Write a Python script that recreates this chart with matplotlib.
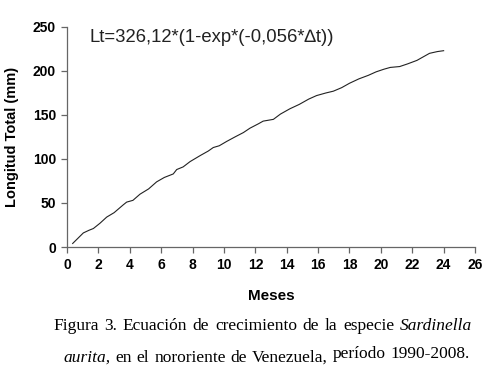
import numpy as np
import matplotlib
matplotlib.use("Agg")
import matplotlib.pyplot as plt

# meses vs longitud total (mm)
meses = [0.36, 0.7, 1.04, 1.4, 1.68, 2.1, 2.53, 3.0, 3.59, 3.8, 4.2, 4.65, 5.2, 5.71,
         6.2, 6.77, 6.99, 7.4, 7.84, 8.5, 9.0, 9.32, 9.7, 10.18, 10.7, 11.24, 11.66,
         12.2, 12.5, 13.15, 13.6, 14.2, 14.8, 15.4, 15.9, 16.5, 16.97, 17.5, 18.0,
         18.6, 19.2, 19.7, 20.2, 20.6, 21.2, 21.7, 22.3, 22.7, 23.1, 23.6, 24.0]
longitud = [4, 10, 16, 19, 21, 27, 34, 39, 48, 51, 53, 60, 66, 74,
            79, 83, 88, 91, 97, 104, 109, 113, 115, 120, 125, 130, 135,
            140, 143, 145, 151, 157, 162, 168, 172, 175, 177, 181, 186,
            191, 195, 199, 202, 204, 205, 208, 212, 216, 220, 222, 223]
xticks = list(range(0, 27, 2))
yticks = [0, 50, 100, 150, 200, 250]
ecuacion = "Lt=326,12*(1-exp*(-0,056*\u2206t))"

# pie de figura (texto justificado)
linea1 = ["Figura", "3.", "Ecuaci\u00f3n", "de", "crecimiento", "de", "la", "especie", "Sardinella"]
linea2 = ["aurita,", "en", "el", "nororiente", "de", "Venezuela,", "per\u00edodo", "1990-2008."]
cursiva = {"Sardinella", "aurita,"}
elevadas = {"per\u00edodo", "1990-2008."}

plt.rcParams['font.family'] = ['Liberation Sans', 'DejaVu Sans']

fig = plt.figure(figsize=(4.86, 3.73), dpi=100)
ax = fig.add_axes([0.1379, 0.3378, 0.8395, 0.590])
ax.plot(meses, longitud, color='#222222', lw=0.8)

ax.set_xlim(0, 26)
ax.set_ylim(0, 250)
ax.set_xticks(xticks)
ax.set_yticks(yticks)
for s in ['top', 'right']:
    ax.spines[s].set_visible(False)
for s in ['left', 'bottom']:
    ax.spines[s].set_color('#666666')
    ax.spines[s].set_linewidth(0.9)
ax.tick_params(direction='out', length=4, width=0.9, color='#666666', labelsize=10, pad=4)
for lab in ax.get_xticklabels() + ax.get_yticklabels():
    lab.set_fontweight('bold')

ax.set_xlabel("Meses", fontsize=11, fontweight='bold', labelpad=12)
ax.set_ylabel("Longitud Total (mm)", fontsize=10.5, fontweight='bold', labelpad=10)

fig.text(89 / 486, 1 - 38 / 373, ecuacion, fontsize=13.3, va='center', ha='left', color='#222222')

serif = ['Liberation Serif', 'DejaVu Serif']
W, H = 486, 373


def justificar(palabras, x0, x1, y, size):
    objs = []
    for w in palabras:
        yy = y - 4 if w in elevadas else y
        t = fig.text(0, 1 - yy / H, w, family=serif, fontsize=size, va='center', ha='left',
                     style='italic' if w in cursiva else 'normal')
        objs.append(t)
    r = fig.canvas.get_renderer()
    anchos = [t.get_window_extent(r).width for t in objs]
    hueco = (x1 - x0 - sum(anchos)) / (len(objs) - 1)
    x = x0
    for t, a in zip(objs, anchos):
        t.set_x(x / W)
        x += a + hueco


justificar(linea1, 53, 472, 326, 12.5)
justificar(linea2, 63, 470, 358, 12.5)

fig.savefig("out.png", dpi=100)
